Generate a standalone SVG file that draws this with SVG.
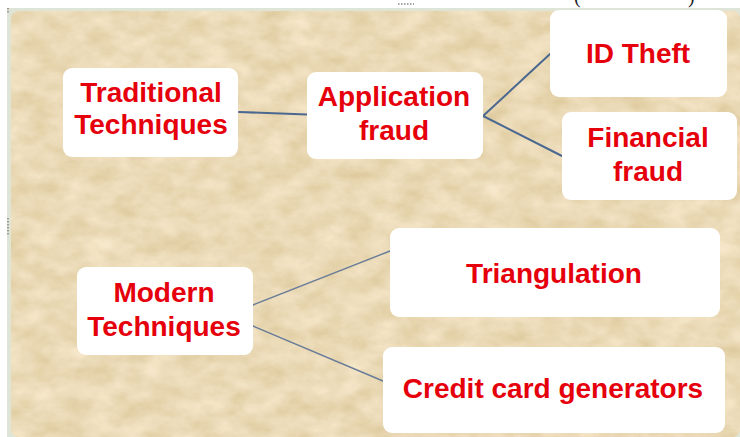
<svg xmlns="http://www.w3.org/2000/svg" width="740" height="437" viewBox="0 0 740 437">
  <defs>
    <filter id="paper" x="0" y="0" width="100%" height="100%" filterUnits="objectBoundingBox">
      <feTurbulence type="fractalNoise" baseFrequency="0.035 0.055" numOctaves="5" seed="7" result="n"/>
      <feColorMatrix in="n" type="matrix" values="0.26 0 0 0 0.7  0.28 0 0 0 0.56  0.34 0 0 0 0.30  0 0 0 0 1" result="c"/>
      <feComposite in="c" in2="SourceGraphic" operator="in"/>
    </filter>
    <style>
      .box { fill: #ffffff; }
      .lbl { font-family: "Liberation Sans", Arial, sans-serif; font-weight: bold; font-size: 28px; fill: #e5000c; text-anchor: middle; }
      .ln { fill: none; stroke: #4a6890; stroke-width: 2; stroke-linecap: round; }
      .ln2 { fill: none; stroke: #687c98; stroke-width: 1.4; stroke-linecap: round; }
      .paren { font-family: "Liberation Serif", "Times New Roman", serif; font-size: 20px; fill: #222; }
      .handle { fill: none; stroke: #888; stroke-width: 1.5; stroke-dasharray: 1.5 1.5; }
    </style>
  </defs>

  <rect x="0" y="0" width="740" height="437" fill="#ffffff"/>
  <text class="paren" x="574" y="3">(</text>
  <text class="paren" x="688" y="3">)</text>
  <line class="handle" x1="398" y1="4" x2="414" y2="4"/>

  <g id="background">
    <rect x="7" y="8" width="733" height="429" fill="#dfe5d6"/>
    <rect x="11" y="11" width="729" height="426" rx="8" fill="#e8cfa0"/>
    <rect x="11" y="11" width="729" height="426" rx="8" fill="#e8cfa0" filter="url(#paper)"/>
    <line class="handle" x1="8" y1="8" x2="8" y2="14"/>
    <line class="handle" x1="8" y1="218" x2="8" y2="236"/>
  </g>

  <g id="connectors">
    <line class="ln" x1="239" y1="112" x2="307" y2="114.5"/>
    <polyline class="ln" points="550,54 483,116 562,156"/>
    <line class="ln2" x1="253" y1="305" x2="390" y2="251"/>
    <line class="ln2" x1="253" y1="326" x2="383" y2="381"/>
  </g>

  <g id="node-traditional">
    <rect class="box" x="63" y="68" width="175" height="89" rx="9"/>
    <text class="lbl" x="151" y="102">Traditional</text>
    <text class="lbl" x="151" y="134">Techniques</text>
  </g>

  <g id="node-application">
    <rect class="box" x="307" y="72" width="176" height="87" rx="9"/>
    <text class="lbl" x="394" y="106">Application</text>
    <text class="lbl" x="394" y="140">fraud</text>
  </g>

  <g id="node-idtheft">
    <rect class="box" x="550" y="10" width="177" height="87" rx="9"/>
    <text class="lbl" x="638" y="63">ID Theft</text>
  </g>

  <g id="node-financial">
    <rect class="box" x="562" y="112" width="175" height="88" rx="9"/>
    <text class="lbl" x="648" y="147">Financial</text>
    <text class="lbl" x="648" y="181">fraud</text>
  </g>

  <g id="node-modern">
    <rect class="box" x="77" y="267" width="176" height="88" rx="9"/>
    <text class="lbl" x="164" y="302">Modern</text>
    <text class="lbl" x="164" y="336">Techniques</text>
  </g>

  <g id="node-triangulation">
    <rect class="box" x="390" y="228" width="330" height="89" rx="9"/>
    <text class="lbl" x="554" y="283">Triangulation</text>
  </g>

  <g id="node-credit">
    <rect class="box" x="383" y="347" width="342" height="86" rx="9"/>
    <text class="lbl" x="553" y="398">Credit card generators</text>
  </g>
</svg>
